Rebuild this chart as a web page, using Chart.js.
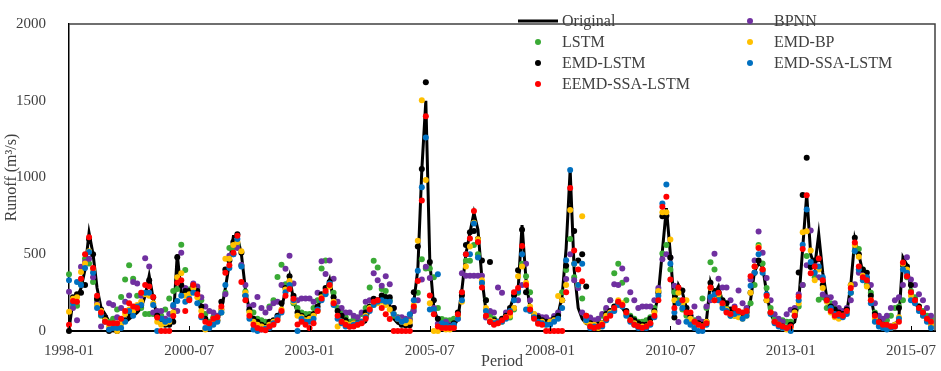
<!DOCTYPE html>
<html><head><meta charset="utf-8">
<script src="https://cdn.jsdelivr.net/npm/chart.js@4.4.1/dist/chart.umd.min.js"></script>
<style>html,body{margin:0;padding:0;background:#fff;}canvas{display:block;}</style>
</head><body>
<canvas id="c" width="941" height="371"></canvas>
<script>
const tickLabels = ['1998-01','2000-07','2003-01','2005-07','2008-01','2010-07','2013-01','2015-07'];
const yTicks = [0,500,1000,1500,2000];
const seriesNames = ['Original','LSTM','BPNN','EMD-LSTM','EMD-BP','EEMD-SSA-LSTM','EMD-SSA-LSTM'];

const original = [
10,200,215,280,400,640,500,280,150,110,
60,47,43,50,58,78,100,120,150,230,
360,210,90,58,47,47,58,500,240,255,
275,290,250,150,90,47,58,78,130,280,
440,615,615,500,270,130,70,50,40,35,
43,50,80,150,260,356,200,120,110,100,
100,110,150,230,260,335,200,130,100,70,
50,40,40,45,60,150,170,190,230,230,
170,80,50,40,30,60,190,400,1050,1500,
450,150,68,30,25,25,30,80,270,500,
640,770,660,340,130,50,60,65,80,110,
150,230,260,690,330,150,100,60,47,40,
45,60,110,230,540,1050,400,150,80,47,
40,35,30,40,100,110,150,190,150,110,
80,50,40,30,30,60,110,240,520,800,
500,150,300,250,150,70,50,45,40,70,
320,240,290,190,150,130,120,110,100,110,
200,390,440,420,250,110,60,45,35,30,
40,60,190,540,890,500,420,630,380,220,
140,120,115,110,120,300,600,500,380,370,
220,90,45,30,25,20,25,90,480,430,
270,180,150,110,70,45];

const lstm = [
370,160,165,304,470,440,320,200,100,80,
60,80,140,222,335,428,340,230,150,110,
110,110,100,100,140,212,260,273,562,397,
270,300,280,200,110,60,90,90,120,250,
541,540,560,428,257,130,120,80,70,60,
160,200,352,432,304,290,180,150,120,110,
110,150,200,407,459,300,250,150,120,90,
60,80,70,110,150,284,458,413,273,260,
200,100,90,80,70,80,150,250,468,407,
407,350,150,78,70,70,80,100,250,458,
458,560,500,315,200,100,80,60,70,90,
88,140,250,438,356,253,109,90,70,80,
60,90,110,253,397,600,350,300,212,100,
70,60,70,100,140,200,377,438,315,200,
100,80,60,60,70,90,150,260,505,560,
401,253,200,140,100,80,70,80,212,150,
448,400,230,200,150,100,100,110,110,140,
180,300,560,440,280,150,80,60,70,60,
60,100,160,300,489,438,350,204,220,150,
180,150,120,110,140,250,520,535,400,300,
250,120,80,70,70,100,150,160,200,350,
260,220,160,130,100,80];

const bpnn = [
255,150,70,418,450,470,350,180,30,90,
180,170,90,150,190,232,320,310,230,474,
420,120,130,130,80,110,160,130,510,280,
250,310,290,220,160,130,120,100,140,240,
490,500,540,430,300,160,170,222,150,120,
150,181,191,300,405,491,310,200,212,212,
212,190,250,454,372,459,340,191,150,120,
120,100,90,120,191,200,377,330,294,356,
305,150,88,90,80,70,130,200,335,418,
346,150,47,40,60,40,40,80,377,360,
360,360,360,360,88,130,120,284,250,120,
110,150,200,300,438,200,98,100,90,90,
70,98,120,200,338,500,330,280,120,88,
88,70,80,110,150,200,305,300,407,335,
253,200,150,160,160,160,200,280,468,500,
478,294,58,200,150,100,160,80,60,160,
200,504,340,284,284,200,160,264,180,150,
335,460,649,510,345,200,109,80,60,109,
139,150,240,300,428,654,450,350,238,220,
220,180,150,130,150,200,304,380,390,350,
300,180,100,80,100,150,200,220,300,480,
335,300,240,200,150,100];

const emdLstm = [
0,220,240,250,300,600,500,210,140,90,
0,10,0,50,70,100,120,140,170,240,
330,220,100,50,40,40,60,480,300,260,
260,290,260,160,80,40,50,70,190,400,
459,580,630,510,232,140,80,60,40,30,
60,70,100,180,280,356,230,120,100,80,
90,110,160,240,280,320,220,130,100,70,
40,50,50,60,120,160,210,200,232,220,
220,150,70,40,37,37,252,551,1056,1621,
449,200,80,40,30,30,50,120,232,560,
644,651,600,459,200,450,70,60,80,100,
150,232,396,660,253,140,100,88,70,60,
60,80,100,200,425,800,651,459,500,290,
50,40,40,50,110,130,160,191,170,130,
90,70,50,40,40,80,130,250,747,751,
479,88,273,264,150,100,60,50,40,60,
315,260,250,200,180,140,120,110,100,120,
250,380,460,397,200,120,60,40,30,20,
40,130,381,886,1128,417,460,468,300,200,
160,140,120,110,140,300,607,500,400,380,
230,110,60,40,30,30,40,150,430,420,
300,200,160,110,70,40];

const emdBp = [
125,210,220,385,440,520,400,170,130,70,
30,40,0,50,110,140,130,170,190,240,
230,180,60,40,50,60,120,350,376,230,
240,280,220,130,10,30,50,70,140,470,
470,560,580,520,250,120,60,40,30,20,
40,60,80,140,270,326,190,100,90,70,
80,100,130,220,250,290,190,30,60,50,
40,50,40,60,100,150,170,180,190,170,
140,110,80,60,50,60,170,588,1504,983,
181,0,0,20,10,10,30,90,191,420,
550,705,598,330,150,70,60,50,60,90,
100,150,356,420,315,160,110,50,60,40,
60,70,228,200,300,788,438,300,747,60,
40,40,20,50,100,120,140,200,180,110,
70,50,30,30,30,50,120,260,773,773,
596,200,250,180,200,80,60,40,30,60,
280,200,240,170,140,110,100,90,80,100,
250,420,547,400,200,120,60,40,20,10,
20,120,180,644,650,524,330,400,280,190,
120,90,80,100,120,300,560,483,360,290,
200,80,40,30,20,20,40,90,438,400,
230,190,140,100,70,40];

const eemdSsaLstm = [
40,195,190,340,500,610,410,230,120,60,
50,50,50,80,130,181,160,150,250,300,
290,222,88,0,0,0,98,314,330,130,
200,300,240,100,60,50,80,90,160,380,
428,510,620,320,200,100,40,20,10,5,
30,40,70,130,230,274,210,43,60,40,
20,50,130,212,260,300,180,100,60,40,
27,30,40,50,80,140,190,200,150,109,
78,0,0,0,0,0,160,325,850,1399,
232,109,30,20,20,20,20,109,253,500,
603,781,580,284,100,60,40,50,70,90,
120,253,280,553,300,140,80,47,40,0,
0,0,0,0,253,932,525,400,324,100,
30,20,30,40,80,100,150,190,170,120,
70,40,30,20,30,50,100,200,809,875,
335,150,284,200,120,120,60,40,30,50,
284,200,250,180,120,110,150,130,120,130,
356,420,541,400,230,120,60,40,30,20,
30,100,223,535,884,376,420,472,330,200,
130,100,110,100,130,280,576,420,350,330,
200,100,59,40,40,30,30,60,447,356,
253,200,150,120,80,60];

const emdSsaLstm = [
330,180,320,300,410,515,380,150,105,60,
10,20,20,20,60,130,100,160,170,250,
250,170,0,80,60,70,170,195,230,190,
210,250,180,90,20,20,40,60,120,300,
410,500,600,420,230,80,10,0,10,15,
20,50,90,120,253,300,200,0,80,60,
60,80,140,200,240,310,170,80,50,30,
30,40,50,60,90,130,170,190,200,191,
191,110,80,60,70,109,200,393,936,1261,
140,140,370,50,40,30,40,80,200,500,
500,700,479,315,130,60,50,60,60,80,
130,200,260,500,140,130,90,60,50,40,
40,60,80,150,461,1049,438,300,438,70,
20,30,30,30,70,110,130,170,160,100,
60,40,20,20,20,40,90,230,830,955,
438,120,180,150,60,40,20,0,0,40,
222,240,200,150,130,100,110,120,80,100,
294,380,500,380,240,110,50,30,20,20,
0,98,200,562,791,450,380,420,350,200,
150,110,100,90,110,250,521,400,330,350,
180,60,30,20,10,20,30,80,400,380,
200,180,130,100,60,20];

// month offset of each tick label, measured from the first label
const monthIndex = s => { const [y,m] = s.split('-').map(Number); const [y0,m0] = tickLabels[0].split('-').map(Number); return (y-y0)*12 + (m-m0); };
const tickMonths = tickLabels.map(monthIndex);

const toXY = arr => arr.map((v,i) => ({x:i, y:v}));
const serif = "'Liberation Serif','Times New Roman',serif";
const textCol = '#404040';

const colors = {
  'LSTM':'#3aaa35', 'BPNN':'#7030a0', 'EMD-LSTM':'#000000',
  'EMD-BP':'#ffc000', 'EEMD-SSA-LSTM':'#ff0000', 'EMD-SSA-LSTM':'#0070c0'
};
const values = {
  'Original': original, 'LSTM': lstm, 'BPNN': bpnn, 'EMD-LSTM': emdLstm,
  'EMD-BP': emdBp, 'EEMD-SSA-LSTM': eemdSsaLstm, 'EMD-SSA-LSTM': emdSsaLstm
};
const drawOrder = {'Original':10,'LSTM':6,'BPNN':5,'EMD-LSTM':4,'EMD-BP':3,'EMD-SSA-LSTM':2,'EEMD-SSA-LSTM':1};

const datasets = seriesNames.map(name => {
  if (name === 'Original') {
    return { label:name, data:toXY(values[name]), borderColor:'#000', borderWidth:3,
      pointRadius:0, tension:0, fill:false, order:drawOrder[name], clip:false };
  }
  return { label:name, data:toXY(values[name]), showLine:false, pointRadius:3,
    pointBackgroundColor:colors[name], pointBorderWidth:0, borderColor:colors[name],
    backgroundColor:colors[name], order:drawOrder[name], clip:false };
});

const legendLayout = [
  {name:'Original', x:518, y:21}, {name:'LSTM', x:518, y:42},
  {name:'EMD-LSTM', x:518, y:63}, {name:'EEMD-SSA-LSTM', x:518, y:84},
  {name:'BPNN', x:730, y:21}, {name:'EMD-BP', x:730, y:42}, {name:'EMD-SSA-LSTM', x:730, y:63}
];

const framePlugin = {
  id:'frame',
  afterDraw(chart) {
    const {ctx, chartArea:a, scales} = chart;
    ctx.save();
    ctx.strokeStyle = '#404040'; ctx.lineWidth = 1.5;
    ctx.beginPath();
    ctx.moveTo(a.left, a.top); ctx.lineTo(a.right, a.top); ctx.lineTo(a.right, a.bottom);
    ctx.stroke();
    // inner tick marks on the x axis
    ctx.strokeStyle = '#000'; ctx.lineWidth = 1;
    tickMonths.forEach(v => {
      const px = Math.round(scales.x.getPixelForValue(v)) + 0.5;
      ctx.beginPath(); ctx.moveTo(px, a.bottom); ctx.lineTo(px, a.bottom - 5); ctx.stroke();
    });
    // legend
    ctx.font = '16px ' + serif; ctx.textBaseline = 'middle'; ctx.textAlign = 'left';
    legendLayout.forEach(it => {
      if (it.name === 'Original') {
        ctx.strokeStyle = '#000'; ctx.lineWidth = 3;
        ctx.beginPath(); ctx.moveTo(it.x, it.y); ctx.lineTo(it.x + 40, it.y); ctx.stroke();
      } else {
        ctx.fillStyle = colors[it.name];
        ctx.beginPath(); ctx.arc(it.x + 20, it.y, 3, 0, Math.PI*2); ctx.fill();
      }
      ctx.fillStyle = textCol;
      ctx.fillText(it.name, it.x + 44, it.y + 1);
    });
    ctx.restore();
  }
};

new Chart(document.getElementById('c'), {
  type:'line',
  data:{ datasets },
  options:{
    responsive:false, animation:false, devicePixelRatio:1, events:[],
    layout:{ padding:{ left:0, right:6, top:7, bottom:0 } },
    plugins:{ legend:{display:false}, tooltip:{enabled:false} },
    scales:{
      x:{
        type:'linear', min:0, max:216,
        afterBuildTicks: s => { s.ticks = tickMonths.map(v => ({value:v})); },
        afterFit: s => { s.height = 40; },
        ticks:{ autoSkip:false, maxRotation:0, padding:3, color:textCol,
          font:{family:serif, size:15},
          callback: v => tickLabels[tickMonths.indexOf(v)] },
        grid:{ display:false },
        border:{ display:true, color:'#000', width:2 },
        title:{ display:true, text:'Period', color:textCol, font:{family:serif, size:16}, padding:{top:0, bottom:0} }
      },
      y:{
        type:'linear', min:0, max:2000,
        afterBuildTicks: s => { s.ticks = yTicks.map(v => ({value:v})); },
        afterFit: s => { s.width = 69; },
        ticks:{ padding:15, color:textCol, font:{family:serif, size:15},
          callback: v => String(v) },
        grid:{ display:false },
        border:{ display:true, color:'#000', width:1.5 },
        title:{ display:true, text:'Runoff (m³/s)', color:textCol, font:{family:serif, size:16}, padding:{top:2, bottom:0} }
      }
    }
  },
  plugins:[framePlugin]
});
</script>
</body></html>
